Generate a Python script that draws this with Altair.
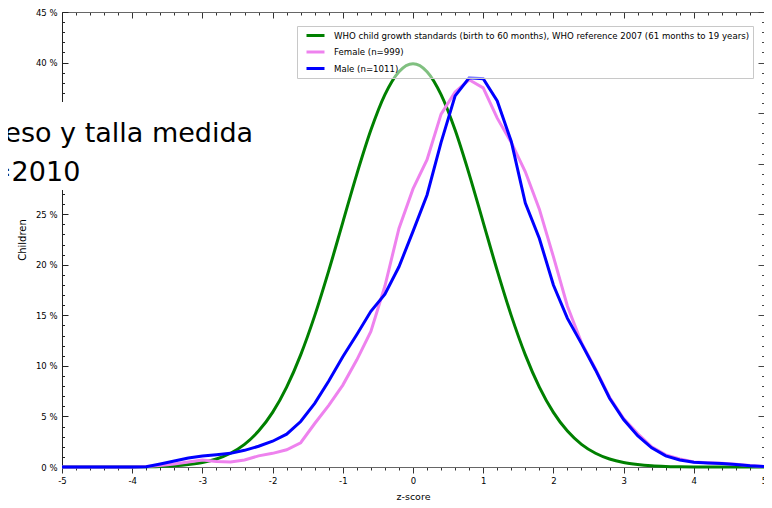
import altair as alt
import pandas as pd

# ---------------- data ----------------
z_values = [-5.0, -4.8, -4.6, -4.4, -4.2, -4.0, -3.8, -3.6, -3.4, -3.2,
            -3.0, -2.8, -2.6, -2.4, -2.2, -2.0, -1.8, -1.6, -1.4, -1.2,
            -1.0, -0.8, -0.6, -0.4, -0.2, 0.0, 0.2, 0.4, 0.6, 0.8,
            1.0, 1.2, 1.4, 1.6, 1.8, 2.0, 2.2, 2.4, 2.6, 2.8,
            3.0, 3.2, 3.4, 3.6, 3.8, 4.0, 4.2, 4.4, 4.6, 4.8, 5.0]

who_pct = [0, 0, 0, 0, 0, 0.01, 0.03, 0.06, 0.12, 0.24,
           0.44, 0.79, 1.36, 2.24, 3.55, 5.40, 7.90, 11.09, 14.97, 19.42,
           24.20, 28.97, 33.32, 36.83, 39.10, 39.89, 39.10, 36.83, 33.32, 28.97,
           24.20, 19.42, 14.97, 11.09, 7.90, 5.40, 3.55, 2.24, 1.36, 0.79,
           0.44, 0.24, 0.12, 0.06, 0.03, 0.01, 0, 0, 0, 0, 0]

female_pct = [0, 0, 0, 0, 0, 0, 0.05, 0.15, 0.3, 0.5,
              0.7, 0.55, 0.5, 0.7, 1.1, 1.35, 1.7, 2.4, 4.3, 6.1,
              8.1, 10.6, 13.4, 17.9, 23.6, 27.5, 30.4, 34.9, 37.1, 38.3,
              37.5, 34.5, 32.1, 29.2, 25.5, 20.8, 15.9, 12.3, 9.7, 6.9,
              4.8, 3.3, 2.0, 1.2, 0.8, 0.5, 0.42, 0.37, 0.28, 0.15, 0.05]

male_pct = [0, 0, 0, 0, 0, 0, 0.02, 0.3, 0.6, 0.88,
            1.08, 1.2, 1.35, 1.65, 2.05, 2.55, 3.25, 4.5, 6.3, 8.5,
            10.9, 13.1, 15.4, 17.1, 19.8, 23.3, 26.9, 32.1, 36.7, 38.5,
            38.4, 36.2, 32.2, 26.1, 22.6, 18.0, 14.7, 12.2, 9.6, 6.8,
            4.7, 3.1, 1.9, 1.1, 0.7, 0.47, 0.4, 0.35, 0.25, 0.12, 0.05]

series_names = [
    "WHO child growth standards (birth to 60 months), WHO reference 2007 (61 months to 19 years)",
    "Female (n=999)",
    "Male (n=1011)",
]
series_colors = ["#008000", "#EE82EE", "#0000FF"]

x_tick_values = z_values
y_tick_values = list(range(0, 46))
overlay_lines = ["Peso y talla medida", "=2010"]

# ---------------- build table ----------------
rows = []
for name, vals in zip(series_names, [who_pct, female_pct, male_pct]):
    for z, v in zip(z_values, vals):
        rows.append({"z": z, "pct": v, "series": name})
df = pd.DataFrame(rows)

W, H = 702, 455
FONT = "DejaVu Sans"

xs = alt.Scale(domain=[-5, 5], nice=False, zero=False)
ys = alt.Scale(domain=[0, 45], nice=False, zero=False)
cs = alt.Scale(domain=series_names, range=series_colors)

x_major = "abs(datum.value - round(datum.value)) < 0.001"
y_major = "datum.value % 5 === 0"

legend = alt.Legend(
    title=None, orient="none", legendX=235, legendY=14,
    symbolType="M-1.8,0H1.8", symbolStrokeWidth=3, symbolSize=100,
    symbolOffset=9, labelOffset=12,
    labelFont=FONT, labelFontSize=8.6, labelColor="black", labelLimit=0,
    fillColor="rgba(255,255,255,0.5)", strokeColor="#c8c8c8",
    padding=3, rowPadding=3.5, zindex=1,
)

# bottom axis with labels
ax_bottom = alt.Axis(
    orient="bottom", values=x_tick_values, grid=False, zindex=0,
    labelExpr=f"{x_major} ? toString(round(datum.value)) : ''",
    tickSize={"condition": {"test": x_major, "value": 6}, "value": 3},
    tickColor="#333", domainColor="#666",
    labelFont=FONT, labelFontSize=8.5, labelColor="black",
    labelPadding=3, labelFlush=False, labelOverlap=False,
    title="z-score", titleFont=FONT, titleFontSize=9.5, titleFontWeight="normal",
    titleColor="black", titlePadding=7,
)
# top border with inward ticks
ax_top = alt.Axis(
    orient="bottom", offset=-H, values=x_tick_values, grid=False, zindex=0,
    labels=False, title=None,
    tickSize={"condition": {"test": x_major, "value": 6}, "value": 3},
    tickColor="#333", domainColor="#666",
)
# left axis with labels
ax_left = alt.Axis(
    orient="left", values=y_tick_values, grid=False, zindex=0, ticks=False,
    labelExpr=f"{y_major} ? datum.value + ' %' : ''",
    domainColor="#222", labelFont=FONT, labelFontSize=8.5, labelColor="black",
    labelPadding=5, labelOverlap=False,
    title="Children", titleFont=FONT, titleFontSize=10, titleFontWeight="normal",
    titleColor="black", titlePadding=8,
)
# inward ticks on the left edge
ax_left_ticks = alt.Axis(
    orient="right", offset=-W, values=y_tick_values, grid=False, zindex=0,
    labels=False, domain=False, title=None,
    tickSize={"condition": {"test": y_major, "value": 6}, "value": 2.5},
    tickColor="#222",
)
# right border with inward ticks
ax_right = alt.Axis(
    orient="left", offset=-W, values=y_tick_values, grid=False, zindex=0,
    labels=False, title=None,
    tickSize={"condition": {"test": y_major, "value": 6}, "value": 2.5},
    tickColor="#444", domainColor="#666",
)

base = alt.Chart(df)

green = base.transform_filter(alt.datum.series == series_names[0]).mark_line(
    interpolate="monotone", strokeWidth=3
).encode(
    x=alt.X("z:Q", scale=xs, axis=ax_bottom),
    y=alt.Y("pct:Q", scale=ys, axis=ax_left),
    color=alt.Color("series:N", scale=cs, legend=legend),
)

pink = base.transform_filter(alt.datum.series == series_names[1]).mark_line(
    strokeWidth=3
).encode(
    x=alt.X("z:Q", scale=xs, axis=ax_top),
    y=alt.Y("pct:Q", scale=ys, axis=ax_left_ticks),
    color=alt.Color("series:N", scale=cs, legend=legend),
)

blue = base.transform_filter(alt.datum.series == series_names[2]).mark_line(
    strokeWidth=3
).encode(
    x=alt.X("z:Q", scale=xs, axis=None),
    y=alt.Y("pct:Q", scale=ys, axis=ax_right),
    color=alt.Color("series:N", scale=cs, legend=legend),
)

one = pd.DataFrame({"k": [0]})
cover = alt.Chart(one).mark_rect(color="white").encode(
    x=alt.value(-54), x2=alt.value(196), y=alt.value(90), y2=alt.value(178)
)
overlay = alt.Chart(one).mark_text(
    align="left", baseline="alphabetic", font=FONT, fontSize=27,
    color="black", lineHeight=39
).encode(
    x=alt.value(-73), y=alt.value(130), text=alt.value(overlay_lines)
)

chart = alt.layer(green, pink, blue, cover, overlay).resolve_axis(
    x="independent", y="independent"
).properties(
    width=W, height=H,
    autosize=alt.AutoSizeParams(type="none"),
    padding={"left": 54, "top": 4, "right": 0, "bottom": 33},
    background="white",
).configure_view(stroke=None)

chart.save("out.html", embed_options={"renderer": "svg", "actions": False})
